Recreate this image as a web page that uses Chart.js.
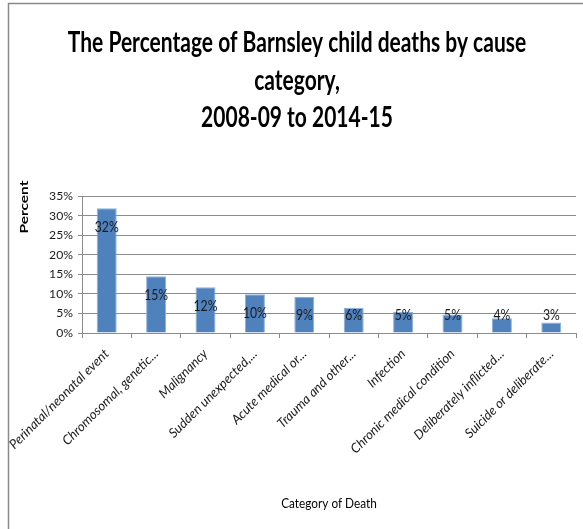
<!DOCTYPE html>
<html>
<head>
<meta charset="utf-8">
<script src="https://cdn.jsdelivr.net/npm/chart.js@4"></script>
<style>
  html, body { margin: 0; padding: 0; background: #fff; }
  #c { display: block; }
</style>
</head>
<body>
<canvas id="c" width="583" height="529"></canvas>
<script>
const categories = [
  "Perinatal/neonatal event",
  "Chromosomal, genetic...",
  "Malignancy",
  "Sudden unexpected,...",
  "Acute medical or...",
  "Trauma and other...",
  "Infection",
  "Chronic medical condition",
  "Deliberately inflicted...",
  "Suicide or deliberate..."
];
const percentValues = [31.9, 14.5, 11.7, 9.9, 9.2, 6.4, 5.4, 4.7, 3.8, 2.7];
const valueLabels = ["32%", "15%", "12%", "10%", "9%", "6%", "5%", "5%", "4%", "3%"];
const titleLines = ["The Percentage of Barnsley child deaths by cause", "category,", "2008-09 to 2014-15"];
const yAxisTitle = "Percent";
const xAxisTitle = "Category of Death";

const FAM = 'Lato, "Liberation Sans", sans-serif';

const mctx = document.createElement('canvas').getContext('2d');
function fitSize(text, prefix, width) {
  mctx.font = prefix + ' 100px ' + FAM;
  const w = mctx.measureText(text).width;
  return Math.round(100 * width / w * 10) / 10;
}
const titleSize = fitSize(titleLines[0], 'bold', 459);
const xTickSize = fitSize(categories[0], 'italic', 135);
const yTickSize = fitSize("35%", '', 24);
const xTitleSize = fitSize(xAxisTitle, '', 96);
const yTitleSize = fitSize(yAxisTitle, 'bold', 53 / 1.3);

const decorPlugin = {
  id: 'decor',
  beforeDraw(chart) {
    const ctx = chart.ctx;
    ctx.save();
    ctx.fillStyle = '#fff';
    ctx.fillRect(0, 0, chart.width, chart.height);
    ctx.strokeStyle = '#8a8a8a';
    ctx.lineWidth = 1.5;
    ctx.beginPath();
    ctx.moveTo(8.5, chart.height);
    ctx.lineTo(8.5, 3.5);
    ctx.lineTo(chart.width, 3.5);
    ctx.stroke();
    ctx.restore();
  },
  afterDraw(chart) {
    const ctx = chart.ctx;
    ctx.save();
    ctx.fillStyle = '#000';
    ctx.textAlign = 'center';
    ctx.textBaseline = 'middle';
    ctx.font = 'bold ' + titleSize + 'px ' + FAM;
    const centers = [43, 80.5, 118];
    titleLines.forEach((t, i) => {
      ctx.save();
      ctx.translate(297, centers[i]);
      ctx.scale(1, 1.35);
      ctx.fillText(t, 0, 0);
      ctx.restore();
    });
    ctx.save();
    ctx.translate(24, 207);
    ctx.rotate(-Math.PI / 2);
    ctx.scale(1.3, 1);
    ctx.font = 'bold ' + yTitleSize + 'px ' + FAM;
    ctx.fillText(yAxisTitle, 0, 0);
    ctx.restore();
    ctx.save();
    ctx.translate(329, 503);
    ctx.scale(1, 1.2);
    ctx.font = xTitleSize + 'px ' + FAM;
    ctx.fillText(xAxisTitle, 0, 0);
    ctx.restore();
    ctx.restore();
  }
};

const valueLabelPlugin = {
  id: 'valueLabels',
  afterDatasetsDraw(chart) {
    const ctx = chart.ctx;
    const meta = chart.getDatasetMeta(0);
    ctx.save();
    ctx.fillStyle = '#1a1a1a';
    ctx.font = yTickSize + 'px ' + FAM;
    ctx.textAlign = 'center';
    ctx.textBaseline = 'middle';
    meta.data.forEach((el, i) => {
      const y = Math.min(el.y + 19, el.base - 17);
      ctx.save();
      ctx.translate(el.x, y);
      ctx.scale(1, 1.2);
      ctx.fillText(valueLabels[i], 0, 0);
      ctx.restore();
    });
    ctx.restore();
  }
};

new Chart(document.getElementById('c'), {
  type: 'bar',
  data: {
    labels: categories,
    datasets: [{
      data: percentValues,
      backgroundColor: '#4F81BD',
      borderColor: '#8DB0DA',
      borderWidth: 1,
      barPercentage: 0.405,
      categoryPercentage: 1.0
    }]
  },
  options: {
    responsive: false,
    animation: false,
    devicePixelRatio: 1,
    layout: { padding: { top: 196, right: 7, left: 0, bottom: 0 } },
    plugins: {
      legend: { display: false },
      tooltip: { enabled: false },
      title: { display: false }
    },
    scales: {
      x: {
        afterFit(scale) {
          scale.height = 196;
          scale.paddingLeft = 0;
          scale.paddingRight = 0;
        },
        grid: { offset: true, drawOnChartArea: false, color: '#8c8c8c', tickLength: 5 },
        border: { color: '#8c8c8c' },
        ticks: {
          autoSkip: false,
          minRotation: 45,
          maxRotation: 45,
          color: '#1a1a1a',
          font: { family: FAM, size: xTickSize, style: 'italic' },
          padding: 8
        }
      },
      y: {
        min: 0,
        max: 35,
        afterFit(scale) {
          scale.width = 82;
          scale.paddingTop = 0;
          scale.paddingBottom = 0;
        },
        grid: { color: '#8c8c8c', tickLength: 4 },
        border: { color: '#8c8c8c' },
        ticks: {
          autoSkip: false,
          stepSize: 5,
          maxTicksLimit: 20,
          color: '#1a1a1a',
          font: { family: FAM, size: yTickSize, lineHeight: 1 },
          padding: 5,
          callback: v => v + '%'
        }
      }
    }
  },
  plugins: [decorPlugin, valueLabelPlugin]
});
</script>
</body>
</html>
